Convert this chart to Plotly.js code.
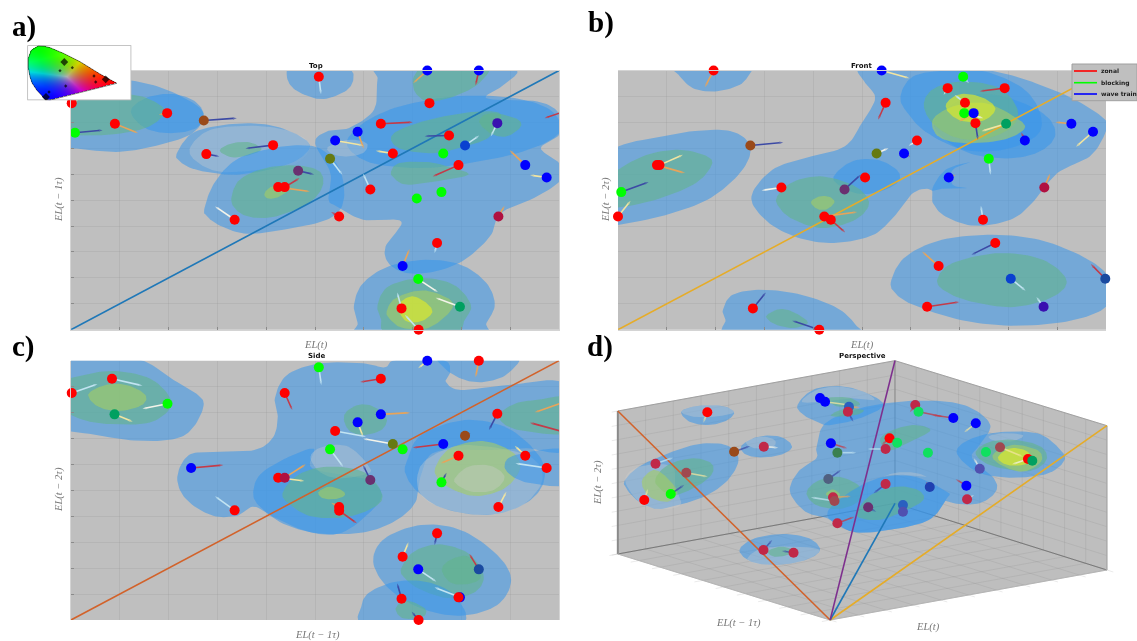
<!DOCTYPE html>
<html><head><meta charset="utf-8">
<script src="https://cdn.plot.ly/plotly-3.0.1.min.js"></script>
<style>
html,body{margin:0;padding:0;background:#fff}
#chart{width:1137px;height:641px}
.cartesianlayer{filter:blur(0.7px)}
.infolayer .annotation{filter:blur(0.25px)}
</style></head><body><div id="chart"></div>
<script>
// ---------- panel a (Top) : readings on unlabelled axes ----------
const aX=[878,1177,1319,1183,197,460,316,206,561,1541,1049,1370,985,923,1237,1281,752,568,1082,1221,909,1263,1447,821,1506,766,784,1020,1216,1148,646,934,1373,1204,1109,1152,1267,1106,1153];
const aY=[231,212,212,310,310,340,372,399,362,340,372,370,396,422,407,437,436,463,461,461,477,496,496,513,533,562,562,569,577,596,660,650,650,730,799,838,921,926,990];
const aKind="r b b r r r r g br nv r in b b r bm r r r g ol r b pu b r r r g g r r cr r b g tl r r".split(" ");
const aTipX=[884,1138,1310,null,215,437,380,282,652,1500,1137,1352,1002,1000,1170,1320,676,604,1035,null,943,1192,1404,865,1460,853,825,1000,null,null,592,912,1390,1197,1128,1206,1200,1094,1115];
const aTipY=[283,250,257,null,300,345,400,391,355,355,367,410,447,437,409,407,446,470,453,null,525,530,451,524,526,575,535,521,null,null,620,637,618,760,748,877,894,878,945];
const aTipKind="lb or rd - cr or or nv nv rd rd lb or cr nv lb nv nv cr - lb rd or nv cr or rd lb - - w rd or lb or w w lb lb".split(" ");
const aRegions=[
["blue",[130,240,260,232,400,250,500,290,560,340,530,400,440,435,330,456,220,447,130,430]],
["blue",[360,335,400,295,470,282,530,300,560,340,540,385,470,400,400,385]],
["teal",[130,290,250,285,370,285,440,315,450,345,400,385,300,405,200,405,130,400]],
["blue",[792,240,820,275,885,298,950,275,973,240,960,205,880,190,800,200]],
["blue",[487,460,530,400,620,375,720,372,800,395,853,435,820,480,740,510,640,525,540,510,495,485]],
["pale",[525,440,580,390,700,378,800,395,853,435,815,490,700,512,600,515,535,480]],
["teal",[605,452,640,430,690,428,720,448,690,465,640,473]],
["blue",[563,625,590,550,650,480,750,445,850,437,900,460,940,520,945,610,900,660,780,690,680,702,610,680,570,650]],
["teal",[637,595,660,540,730,505,820,497,880,515,888,560,850,610,760,650,690,652,650,630]],
["lime",[728,583,745,562,785,555,800,565,770,590,740,597]],
["blue",[1030,330,1040,240,1060,205,1400,205,1395,250,1340,295,1480,305,1540,340,1545,400,1490,445,1540,490,1545,540,1480,590,1380,640,1350,710,1280,780,1200,815,1120,820,1070,790,1062,740,1105,665,1000,660,930,620,905,600,910,520,868,430,900,395,960,385]],
["blue",[955,430,1000,370,1100,320,1250,290,1400,292,1500,320,1540,360,1540,400,1480,440,1370,475,1200,503,1080,500,1000,480]],
["pale",[905,440,960,420,1010,430,1000,460,950,470,910,460]],
["teal",[1137,240,1150,212,1150,190,1340,190,1320,250,1250,290,1180,305,1145,280]],
["teal",[1077,420,1100,390,1200,355,1320,335,1380,345,1350,410,1280,440,1200,460,1110,450]],
["teal",[1320,365,1350,340,1420,355,1435,380,1395,410,1350,400]],
["teal",[1077,515,1100,490,1180,487,1250,505,1290,525,1200,545,1120,555,1085,535]],
["blue",[975,915,1000,850,1070,800,1170,780,1270,795,1340,850,1363,915,1340,970,1320,1010,1000,1010,985,970]],
["teal",[1040,915,1070,860,1160,835,1250,855,1297,915,1280,960,1250,1000,1070,1000,1050,960]],
["lime",[1065,935,1090,895,1165,872,1240,900,1240,935,1180,985,1110,985,1075,960]],
["yell",[1105,905,1140,890,1180,915,1190,940,1160,965,1120,965,1100,935]]
];
// ---------- panel b (Front) ----------
const bX=[397,863,1089,1046,1204,874,1094,1092,1118,1123,1208,1389,1449,961,1260,499,925,849,1160,247,240,1049,817,585,760,1314,141,132,704,722,1144,1178,1021,1221,1483,1312,989,506,690];
const bY=[212,212,231,265,265,309,309,340,340,370,372,372,396,422,422,437,461,461,477,496,496,533,533,563,569,563,577,650,650,660,660,730,799,837,837,921,921,926,990];
const bKind="r b g r r r r g b r tl b b r b br b ol g r r b r r pu cr g r r r r r r bm nv in r r r".split(" ");
const bTipX=[373,940,1105,1035,1135,853,1065,1145,1078,1130,1140,1345,1402,938,1250,590,942,882,1165,312,318,1068,825,530,805,1330,217,167,795,762,1138,1112,975,1262,1443,1292,1078,542,615];
const bTipY=[262,235,250,285,274,360,285,355,365,420,394,367,441,438,397,428,470,445,525,465,520,525,519,572,525,522,547,603,637,698,618,765,755,873,793,892,907,878,963];
const bTipKind="or cr lb w rd rd lb w or nv cr or cr w rd nv rd w lb cr or or w w nv or nv cr or rd lb nv or lb rd lb rd nv nv".split(" ");
const bRegions=[
["blue",[298,200,300,225,340,265,400,275,470,255,502,212,500,195]],
["blue",[100,470,250,410,400,390,470,405,500,450,470,520,380,600,250,650,130,675,100,680]],
["teal",[100,540,200,470,300,450,380,470,390,500,340,555,220,605,100,620]],
["blue",[808,200,815,245,845,295,810,365,760,440,650,475,560,510,502,590,540,660,620,710,720,730,830,710,890,660,950,580,1000,570,1005,610,1040,650,1120,678,1220,660,1280,610,1350,520,1440,470,1483,400,1483,360,1400,300,1290,250,1200,220,1120,205,1000,200]],
["blue",[915,290,950,230,1040,212,1150,215,1260,270,1305,350,1290,410,1200,450,1090,450,990,400,935,340]],
["blue",[1010,360,1100,290,1200,290,1310,340,1345,400,1310,450,1230,475,1120,465,1040,420]],
["teal",[980,310,1010,265,1090,245,1190,265,1240,330,1220,385,1140,420,1060,410,1000,365]],
["lime",[1005,360,1060,320,1150,310,1230,350,1260,385,1200,420,1090,430,1020,410]],
["yell",[1043,310,1080,283,1140,292,1178,325,1150,360,1090,365,1050,340]],
["blue",[730,530,780,485,850,480,905,510,910,545,860,575,800,582,750,560]],
["teal",[573,590,620,545,700,530,790,560,828,610,790,660,700,685,620,660,580,625]],
["lime",[667,607,690,590,720,592,732,608,712,628,685,628]],
["blue",[1003,570,1040,510,1110,487,1060,510,1060,555,1100,565,1040,565]],
["blue",[890,840,930,770,1030,720,1170,705,1300,720,1420,770,1490,830,1490,915,1400,960,1250,978,1100,965,960,920,900,880]],
["teal",[1017,840,1060,790,1190,760,1310,780,1375,840,1340,890,1230,922,1110,905,1040,875]],
["blue",[423,930,450,885,530,870,640,885,740,925,790,975,790,1010,450,1010,430,960]],
["teal",[543,950,580,928,620,938,658,968,620,985,570,975]]
];
// ---------- panel c (Side) ----------
const cX=[1177,1319,878,1049,308,197,784,461,1541,1049,315,1370,985,1541,923,1281,1082,1221,909,1109,1263,1447,526,1506,766,784,1020,1216,1373,646,934,934,1204,1109,1152,1319,1267,1263,1106,1153];
const cY=[77,77,97,131,131,174,174,206,206,238,238,236,262,287,288,302,327,327,343,343,362,362,399,399,428,428,435,442,516,526,516,527,595,665,703,703,787,787,791,855];
const cKind="b r g r r r r g b b tl r b b r br ol b g g r r b r r cr pu g r r r r r r b nv b r r r".split(" ");
const cTipX=[1152,1310,885,992,392,268,805,392,1473,1130,365,1347,1000,1460,1008,1296,1000,1137,945,null,1214,1418,615,1420,838,842,1000,1230,1395,592,912,983,1197,1125,1202,1293,1197,1272,1094,1134];
const cTipY=[100,127,150,141,152,147,225,221,232,233,260,285,305,263,305,295,311,338,395,null,385,332,390,385,438,388,390,413,470,484,503,565,630,622,740,657,757,772,745,830];
const cTipKind="cr or lb rd lb lb rd w or or cr nv cr rd lb nv w rd lb - or cr rd lb cr or nv nv cr lb or rd nv cr lb rd lb rd nv nv".split(" ");
const cRegions=[
["blue",[150,60,370,70,470,130,545,180,560,215,530,280,480,312,380,317,270,300,150,260]],
["teal",[150,150,230,120,320,108,420,135,472,205,420,260,320,268,230,255,150,210]],
["lime",[243,178,290,150,350,150,400,180,390,210,330,228,270,215]],
["blue",[488,425,520,360,590,352,700,345,750,310,765,250,757,190,790,120,880,85,1000,85,1060,97,1090,75,1220,75,1240,110,1228,140,1270,165,1400,150,1560,150,1560,340,1450,340,1350,345,1200,350,1160,420,1145,500,1100,550,1030,585,950,597,850,590,760,550,700,515,650,543,580,540,510,490]],
["blue",[1218,60,1225,100,1280,135,1340,140,1400,115,1420,60]],
["blue",[697,470,730,405,860,340,860,400,1000,430,1050,470,1030,520,930,597,800,575,720,520]],
["pale",[855,365,890,335,960,335,1020,400,1000,420,930,430,880,410]],
["teal",[778,475,820,420,900,395,1000,410,1050,470,1040,510,960,545,860,545,800,510]],
["lime",[877,472,905,455,940,465,950,480,925,492,890,490]],
["teal",[948,240,985,210,1030,215,1065,250,1050,285,1000,300,960,285]],
["blue",[1120,380,1160,300,1280,255,1400,280,1490,370,1495,450,1440,510,1340,540,1220,520,1150,470,1118,420]],
["pale",[1150,420,1180,370,1280,330,1450,360,1495,430,1440,510,1340,540,1220,520,1160,480]],
["lime",[1200,395,1240,340,1330,318,1410,350,1433,400,1390,460,1310,483,1240,460,1205,430]],
["pale",[1253,430,1290,395,1350,392,1390,425,1360,465,1300,470,1260,450]],
["teal",[1375,240,1420,205,1480,195,1560,190,1560,290,1470,292,1400,275]],
["blue",[1390,395,1420,360,1560,345,1560,445,1480,448,1420,430]],
["blue",[1028,680,1060,610,1160,570,1270,585,1370,660,1408,735,1370,810,1270,842,1160,820,1070,760]],
["teal",[1105,700,1140,650,1210,628,1290,655,1332,720,1310,770,1240,790,1160,765,1115,730]],
["teal",[1217,705,1240,675,1290,665,1325,720,1300,745,1245,745]],
["blue",[995,815,1020,770,1100,738,1190,745,1260,790,1265,870,1010,870]],
["teal",[1090,820,1120,797,1170,820,1165,845,1110,850]]
];
// ---------- panel d (Perspective): positions as projected in the picture ----------
const dX=[379,690,704,770,767,953,962,1058,1120,882,903,720,738,871,988,535,453,236,321,278,205,1148,1187,1264,1276,1131,713,871,993,1094,726,730,1096,823,919,919,738,534,617];
const dY=[232,189,200,215,230,210,230,249,265,310,323,325,353,342,353,335,350,386,413,477,495,351,337,372,377,401,432,447,456,452,487,498,493,517,510,530,565,645,653];
const dKind="r b b db dc dc gm b b r gm b dg dc gm dc br dc dt g r gm dt r tl ps ds dc dn b dc dt dc pu db ps dc dc dc".split(" ");
const dTipX=[368,null,770,800,782,938,1030,1000,1088,860,null,765,790,822,null,575,497,285,380,315,215,null,1250,1220,null,1115,748,838,982,1065,775,665,1115,845,null,null,785,558,585];
const dTipY=[263,null,210,218,260,232,245,240,292,330,null,340,353,342,null,338,333,368,425,450,462,null,365,388,null,370,405,475,440,433,484,487,480,530,null,null,545,615,648];
const dTipKind="cr - cr or nv rd rd rd cr rd - rd lb lb - w nv lb cr nv cr - cr w - w nv nv rd rd or lb w nv - - rd nv nv".split(" ");
const dRegions=[
["blue",[307,230,350,213,420,213,453,232,430,258,380,270,330,260]],
["pale",[307,230,350,213,420,213,453,232,400,245,340,245]],
["blue",[628,210,670,165,740,153,810,170,865,210,800,250,720,270,690,265,645,240]],
["pale",[640,200,680,165,740,155,810,170,840,195,780,190,700,200]],
["teal",[710,190,770,188,800,210,740,215]],
["blue",[475,330,520,305,580,305,613,335,580,360,520,367,480,355]],
["pale",[485,320,530,305,565,315,560,335,510,340]],
["blue",[152,435,190,395,260,360,350,328,430,330,465,370,440,430,380,480,300,510,240,522,190,500,155,460]],
["pale",[152,435,190,395,280,393,290,450,305,510,240,522,190,500]],
["teal",[235,440,270,390,340,370,390,385,390,420,340,460,280,480]],
["lime",[198,440,230,405,265,425,295,470,270,500,220,485]],
["blue",[680,340,700,270,770,230,870,205,1000,197,1100,215,1160,270,1130,330,1110,370,1170,430,1175,470,1130,505,1060,505,1000,480,1040,470,1040,490,990,555,880,585,780,590,710,550,650,530,607,470,630,410,680,370]],
["teal",[720,240,760,220,810,225,790,240,740,245]],
["teal",[857,310,890,285,950,270,995,285,950,315,890,345,865,335]],
["teal",[653,475,680,440,740,425,800,455,795,500,740,522,680,510]],
["lime",[706,478,725,463,745,478,730,490]],
["blue",[710,540,760,480,850,430,950,425,1040,470,1040,490,990,555,880,585,780,590]],
["teal",[790,540,830,480,900,455,960,465,975,495,920,530,850,555]],
["pale",[865,425,900,413,950,413,985,425,940,420,890,420]],
["blue",[1067,350,1100,315,1180,292,1290,295,1350,340,1365,375,1320,415,1230,428,1150,420,1100,395]],
["pale",[1155,305,1190,295,1250,300,1225,318,1175,318]],
["teal",[1120,350,1160,320,1230,315,1300,335,1315,375,1270,408,1190,400,1140,380]],
["lime",[1167,360,1220,330,1290,345,1300,380,1250,410,1190,390]],
["yell",[1182,365,1215,340,1260,348,1275,380,1230,392,1195,385]],
["blue",[468,645,510,610,590,597,660,610,690,645,650,675,570,690,500,680]],
["pale",[490,670,530,640,620,635,688,645,650,675,570,690,510,685]],
["teal",[545,650,580,635,617,645,600,660,565,665]]
];
// box corners of panel d
const dBackLeftTop=[132,228], dBackTop=[897,77], dRightTop=[1482,272];
const dLeftBottom=[132,657], dBackBottom=[897,505], dRightBottom=[1482,705], dFront=[718,855];
// chromaticity key
const keyEdgeX=[11,17,22.7,36,52.7,72.7,89.4,22,17.7,9.4,5,2.7,1,1,4,11];
const keyEdgeY=[0.7,1,2.4,8,16.4,28.7,38,55,54,44.7,38,31.4,22,13,5,0.7];
const keyDotX=[37,32.7,45,66.7,68.4,78.4,38.4,21.7,18.7];
const keyDotY=[16.7,25.4,22.4,30.7,36.7,34,40.7,46.7,51.7];
const keyDotBig=[1,0,0,0,0,1,0,0,1];
// legend and labels
const legendNames=["zonal","blocking","wave train"];
const panelLetters=["a)","b)","c)","d)"];
const panelTitles=["Top","Front","Side","Perspective"];

// ---------- styles ----------
const pointColor={r:"#ff0000",b:"#0000ff",g:"#00ff00",br:"#9a4a1a",ol:"#667a12",pu:"#6a3070",cr:"#b01040",tl:"#00a060",nv:"#1a4aa0","in":"#3a10b0",bm:"#0a40d0",dc:"#c02848",ds:"#506080",db:"#2a60c0",gm:"#10e060",dg:"#3a8050",dt:"#a04850",ps:"#5050b0",dn:"#2040b0"};
const arrowColor={w:"#f4f4ea",cr:"#f3e5a0",or:"#e8a45a",rd:"#c43a48",nv:"#3c4aa5",lb:"#c2e4f2"};
const regionColor={blue:"rgba(55,150,235,0.55)",teal:"rgba(98,180,140,0.6)",lime:"rgba(165,205,100,0.6)",yell:"rgba(225,235,40,0.65)",pale:"rgba(205,205,205,0.35)"};
const W=1137,H=641;
const traces=[];

// closed curve through a region's outline points
function closedCurve(p){
  const n=p.length/2,x=[],y=[];
  const at=(i,k)=>p[2*((i+n)%n)+k];
  for(let i=0;i<n;i++){
    for(let s=0;s<10;s++){
      const t=s/10,t2=t*t,t3=t2*t;
      const cr=k=>0.5*(2*at(i,k)+(at(i+1,k)-at(i-1,k))*t+(2*at(i-1,k)-5*at(i,k)+4*at(i+1,k)-at(i+2,k))*t2+(3*at(i,k)-at(i-1,k)-3*at(i+1,k)+at(i+2,k))*t3);
      x.push(cr(0));y.push(cr(1));
    }
  }
  x.push(x[0]);y.push(y[0]);
  return {x,y};
}
function addRegions(list,xa,ya){
  list.forEach(([kind,p])=>{
    const c=closedCurve(p);
    traces.push({type:"scatter",mode:"lines",x:c.x,y:c.y,xaxis:xa,yaxis:ya,fill:"toself",fillcolor:regionColor[kind],
      line:{width:0},hoverinfo:"skip",showlegend:false});
  });
}
function addLine(x,y,xa,ya,color,width){
  traces.push({type:"scatter",mode:"lines",x,y,xaxis:xa,yaxis:ya,line:{color,width},hoverinfo:"skip",showlegend:false});
}
function addMarks(X,Y,K,TX,TY,TK,xa,ya,op){
  X.forEach((v,i)=>{
    if(TX[i]===null) return;
    traces.push({type:"scatter",mode:"lines+markers",x:[v,TX[i]],y:[Y[i],TY[i]],xaxis:xa,yaxis:ya,cliponaxis:false,opacity:op,
      line:{color:arrowColor[TK[i]],width:1.6},
      marker:{symbol:"arrow",angleref:"previous",size:[0,4],color:arrowColor[TK[i]],line:{width:0}},
      hoverinfo:"skip",showlegend:false});
  });
  traces.push({type:"scatter",mode:"markers",x:X,y:Y,xaxis:xa,yaxis:ya,cliponaxis:false,
    marker:{size:10,color:K.map(k=>pointColor[k]),line:{width:0}},hoverinfo:"skip",showlegend:false});
}

// panel a
addRegions(aRegions,"x","y");
addLine([195,1540],[990,212],"x","y","#1f78b8",1.6);
addMarks(aX,aY,aKind,aTipX,aTipY,aTipKind,"x","y",1);
// panel b
addRegions(bRegions,"x2","y2");
addLine([132,1485],[990,212],"x2","y2","#e6ac28",1.6);
addMarks(bX,bY,bKind,bTipX,bTipY,bTipKind,"x2","y2",1);
// panel c
addRegions(cRegions,"x3","y3");
addLine([195,1540],[855,77],"x3","y3","#d2622a",1.6);
addMarks(cX,cY,cKind,cTipX,cTipY,cTipKind,"x3","y3",1);

// panel d box
function poly(cs){
  traces.push({type:"scatter",mode:"lines",x:cs.map(c=>c[0]).concat(cs[0][0]),y:cs.map(c=>c[1]).concat(cs[0][1]),xaxis:"x4",yaxis:"y4",
    fill:"toself",fillcolor:"#bebebe",line:{width:0},hoverinfo:"skip",showlegend:false});
}
poly([dBackLeftTop,dBackTop,dBackBottom,dLeftBottom]);
poly([dBackTop,dRightTop,dRightBottom,dBackBottom]);
poly([dLeftBottom,dBackBottom,dRightBottom,dFront]);
function mix(a,b,t){return [a[0]+(b[0]-a[0])*t,a[1]+(b[1]-a[1])*t];}
function grid(a,b,d,c,ext){ // lines joining edge a-b to edge d-c, carried past the far edge by ext
  const x=[],y=[];
  for(let i=0;i<=10;i++){
    const s=mix(a,b,i/10),e=mix(d,c,i/10),f=mix(s,e,1+ext);
    x.push(s[0],f[0],null);y.push(s[1],f[1],null);
  }
  addLine(x,y,"x4","y4","rgba(125,125,125,0.16)",1);
}
grid(dBackTop,dBackLeftTop,dBackBottom,dLeftBottom,0);
grid(dBackTop,dBackBottom,dBackLeftTop,dLeftBottom,0.022);
grid(dBackTop,dRightTop,dBackBottom,dRightBottom,0);
grid(dRightTop,dRightBottom,dBackTop,dBackBottom,0);
grid(dLeftBottom,dBackBottom,dFront,dRightBottom,0.03);
grid(dBackBottom,dRightBottom,dLeftBottom,dFront,0.03);
addLine([dLeftBottom[0],dBackBottom[0],dRightBottom[0]],[dLeftBottom[1],dBackBottom[1],dRightBottom[1]],"x4","y4","#777",1);
addLine([dBackTop[0],dBackBottom[0]],[dBackTop[1],dBackBottom[1]],"x4","y4","#8e8e8e",1);
addLine([dBackLeftTop[0],dLeftBottom[0]],[dBackLeftTop[1],dLeftBottom[1]],"x4","y4","#8a8a8a",2);
addLine([dRightTop[0],dRightBottom[0]],[dRightTop[1],dRightBottom[1]],"x4","y4","#a8a8a8",1.2);
addLine([dBackLeftTop[0],dBackTop[0],dRightTop[0]],[dBackLeftTop[1],dBackTop[1],dRightTop[1]],"x4","y4","#a0a0a0",1);
addLine([dLeftBottom[0],dFront[0],dRightBottom[0]],[dLeftBottom[1],dFront[1],dRightBottom[1]],"x4","y4","#b4b4b4",1);
addRegions(dRegions,"x4","y4");
addLine([dBackLeftTop[0],dFront[0]],[dBackLeftTop[1],dFront[1]],"x4","y4","#d2622a",1.6);
addLine([dRightTop[0],dFront[0]],[dRightTop[1],dFront[1]],"x4","y4","#e6ac28",1.6);
addLine([dBackBottom[0],dFront[0]],[dBackBottom[1],dFront[1]],"x4","y4","#1f78b8",1.6);
addLine([dBackTop[0],dFront[0]],[dBackTop[1],dFront[1]],"x4","y4","#7e2f8e",1.6);
addMarks(dX,dY,dKind,dTipX,dTipY,dTipKind,"x4","y4",0.75);

// chromaticity key raster (white outside the curve, so it also forms the white box)
function inside(px,py){
  let c=false;
  for(let i=0,j=keyEdgeX.length-1;i<keyEdgeX.length;j=i++){
    if((keyEdgeY[i]>py)!==(keyEdgeY[j]>py)&&px<(keyEdgeX[j]-keyEdgeX[i])*(py-keyEdgeY[i])/(keyEdgeY[j]-keyEdgeY[i])+keyEdgeX[i]) c=!c;
  }
  return c;
}
const gv=[11,3],rv=[89,38],bv=[20,54];
const den=(rv[1]-bv[1])*(gv[0]-bv[0])+(bv[0]-rv[0])*(gv[1]-bv[1]);
const key=[];
for(let j=0;j<55;j++){
  const row=[];
  for(let i=0;i<104;i++){
    const px=i+0.5,py=j+0.5;
    if(!inside(px,py)){row.push([255,255,255]);continue;}
    let g=((rv[1]-bv[1])*(px-bv[0])+(bv[0]-rv[0])*(py-bv[1]))/den;
    let r=((bv[1]-gv[1])*(px-bv[0])+(gv[0]-bv[0])*(py-bv[1]))/den;
    let b=1-g-r;
    g=Math.max(g,0);r=Math.max(r,0);b=Math.max(b,0);
    const m=Math.max(g,r,b),v=0.45+0.55*Math.min(1,m*1.3);
    row.push([Math.pow(r/m,1.3)*255*v,Math.pow(g/m,1.3)*255*v,Math.pow(b/m,1.3)*255*v]);
  }
  key.push(row);
}
traces.push({type:"image",z:key,colormodel:"rgb",x0:0.5,y0:0.5,dx:1,dy:1,xaxis:"x5",yaxis:"y5",hoverinfo:"skip"});
traces.push({type:"scatter",mode:"lines",x:[0,104,104,0,0],y:[0,0,55,55,0],xaxis:"x5",yaxis:"y5",line:{color:"#b0b0b0",width:1.5},hoverinfo:"skip",showlegend:false});
traces.push({type:"scatter",mode:"lines",x:keyEdgeX,y:keyEdgeY,xaxis:"x5",yaxis:"y5",line:{color:"#222",width:0.6},hoverinfo:"skip",showlegend:false});
traces.push({type:"scatter",mode:"markers",x:keyDotX,y:keyDotY,xaxis:"x5",yaxis:"y5",marker:{color:"#000",symbol:"diamond",size:keyDotBig.map(v=>v?6:2.5),line:{width:0}},hoverinfo:"skip",showlegend:false});

// ---------- layout ----------
const xd=(a,b)=>[a/W,b/W], yd=(top,bot)=>[1-bot/H,1-top/H];
function panelAxis(range,domain,dtick){
  return {domain,range,tick0:range[0],dtick,showgrid:true,gridcolor:"rgba(125,125,125,0.15)",gridwidth:1,zeroline:false,
    showticklabels:false,ticks:"inside",ticklen:3,tickcolor:"#8a8a8a",tickwidth:1,showline:true,linecolor:"#d4d4d4",linewidth:1,mirror:true,fixedrange:true};
}
const hidden=(range,domain)=>({domain,range,visible:false,showgrid:false,zeroline:false,fixedrange:true});
const sf="Liberation Serif", lc="#777";
function lab(text,x,y,rot){return {text:"<i>"+text+"</i>",x:x/W,y:1-y/H,xref:"paper",yref:"paper",showarrow:false,textangle:rot||0,font:{family:sf,size:10.5,color:lc},xanchor:"center",yanchor:"middle"};}
function big(text,x,y){return {text,x:x/W,y:1-y/H,xref:"paper",yref:"paper",showarrow:false,xanchor:"left",yanchor:"middle",font:{family:sf,size:29,color:"#000",weight:"bold"}};}
function ttl(text,x,y){return {text,x:x/W,y:1-y/H,xref:"paper",yref:"paper",showarrow:false,xanchor:"center",yanchor:"middle",font:{family:"DejaVu Sans",size:7,color:"#111",weight:"bold"}};}
const rect=(x0,x1,y0,y1)=>({type:"rect",xref:"paper",yref:"paper",layer:"below",x0:x0/W,x1:x1/W,y0:1-y0/H,y1:1-y1/H,fillcolor:"#bfbfbf",line:{width:0}});
// legend box: three line samples with their names
const legendY=[71,82.7,94], legendColor=["#ff0000","#00ff00","#0000ff"];
const legendShapes=[{type:"rect",xref:"paper",yref:"paper",x0:1072/W,x1:1137/W,y0:1-64/H,y1:1-100.7/H,fillcolor:"#bfbfbf",line:{color:"#a0a0a0",width:1}}]
  .concat(legendY.map((y,i)=>({type:"line",xref:"paper",yref:"paper",x0:1074/W,x1:1097/W,y0:1-y/H,y1:1-y/H,line:{color:legendColor[i],width:1.6}})));
const legendText=legendNames.map((n,i)=>({text:n,x:1099/W,y:1-legendY[i]/H,xref:"paper",yref:"paper",showarrow:false,xanchor:"left",yanchor:"middle",font:{family:"DejaVu Sans",size:6,color:"#222",weight:"bold"}}));
const layout={
  width:W,height:H,margin:{l:0,r:0,t:0,b:0,autoexpand:false},paper_bgcolor:"#fff",plot_bgcolor:"rgba(0,0,0,0)",
  showlegend:false,
  xaxis:panelAxis([195,1540],xd(71,559),134.5), yaxis:panelAxis([990,212],yd(70.5,329.7),77.8),
  xaxis2:panelAxis([132,1485],xd(618,1106),135.3), yaxis2:panelAxis([990,212],yd(70.5,329.7),77.8),
  xaxis3:panelAxis([195,1540],xd(71,559),134.5), yaxis3:panelAxis([855,77],yd(360.7,620),77.8),
  xaxis4:hidden([0,1565],xd(570,1137)), yaxis4:hidden([918,0],yd(335,641)),
  xaxis5:Object.assign(hidden([0,104],xd(27.3,131.3)),{constrain:"range"}), yaxis5:Object.assign(hidden([55,0],yd(45.3,100.3)),{constrain:"range",scaleanchor:false}),
  shapes:[rect(71,559,70.5,329.7),rect(618,1106,70.5,329.7),rect(71,559,360.7,620)].concat(legendShapes),
  annotations:[
    big(panelLetters[0],10,27),big(panelLetters[1],586,23),big(panelLetters[2],10,346),big(panelLetters[3],585,346),
    ttl(panelTitles[0],316,66),ttl(panelTitles[1],862,66),ttl(panelTitles[2],316,356),ttl(panelTitles[3],862,356),
    lab("EL(t)",316,345),lab("EL(t − 1τ)",59,200,-90),
    lab("EL(t)",862,345),lab("EL(t − 2τ)",606,200,-90),
    lab("EL(t − 1τ)",317,635),lab("EL(t − 2τ)",59,490,-90),
    lab("EL(t − 1τ)",739,623),lab("EL(t)",928,627),lab("EL(t − 2τ)",598,483,-90)
  ].concat(legendText)
};
Plotly.newPlot("chart",traces,layout,{displayModeBar:false,staticPlot:true});
</script></body></html>
